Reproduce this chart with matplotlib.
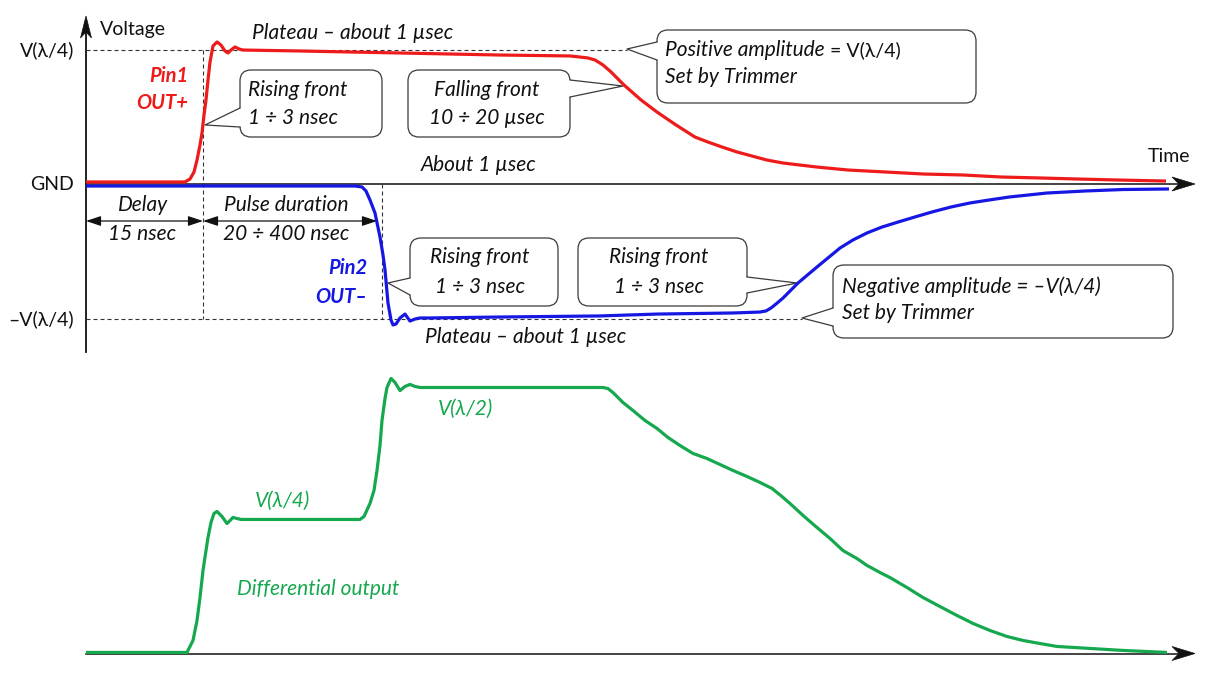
import matplotlib
matplotlib.use("Agg")
import matplotlib.pyplot as plt
from matplotlib.patches import FancyBboxPatch, Polygon

# ---------------- data (time in arbitrary units from the trigger, voltage in units of V(λ/4)) -------------
t_out_plus = [0, 99, 104, 108, 111, 114, 116, 118, 120, 122,
              124, 127, 131, 135, 139, 142, 145, 149, 153, 157,
              214, 314, 414, 484, 494, 502, 509, 517, 525, 538,
              555, 571, 590, 609, 622, 636, 651, 666, 681, 697,
              714, 731, 762, 800, 838, 877, 915, 953, 992, 1030, 1080]
v_out_plus = [0.015, 0.015, 0.037, 0.089, 0.178, 0.290, 0.379, 0.513, 0.625, 0.773,
              0.907, 1.026, 1.056, 1.033, 0.989, 0.974, 0.996, 1.019, 1.004, 0.996,
              0.989, 0.974, 0.959, 0.952, 0.944, 0.937, 0.922, 0.885, 0.833, 0.736,
              0.625, 0.535, 0.439, 0.349, 0.312, 0.275, 0.238, 0.208, 0.178, 0.156,
              0.141, 0.126, 0.104, 0.089, 0.074, 0.067, 0.052, 0.045, 0.037, 0.030, 0.022]

t_out_minus = [0, 269, 276, 280, 284, 289, 294, 297, 299, 302,
               305, 307, 310, 314, 319, 324, 329, 334, 344, 414,
               514, 571, 647, 674, 680, 685, 690, 697, 712, 731,
               754, 767, 781, 796, 812, 829, 846, 865, 884, 903,
               923, 961, 999, 1037, 1083]
v_out_minus = [-0.015, -0.015, -0.022, -0.052, -0.119, -0.216, -0.394, -0.528, -0.639, -0.885,
               -1.011, -1.048, -1.041, -0.996, -0.967, -1.019, -1.004, -0.996, -0.996, -0.989,
               -0.981, -0.967, -0.959, -0.952, -0.944, -0.922, -0.892, -0.848, -0.736, -0.617,
               -0.476, -0.416, -0.364, -0.320, -0.283, -0.245, -0.208, -0.171, -0.141, -0.119,
               -0.097, -0.067, -0.052, -0.041, -0.037]

t_diff = [0, 101, 107, 111, 114, 117, 120, 122, 125, 128,
          131, 136, 141, 144, 147, 151, 155, 214, 274, 278,
          284, 288, 291, 294, 296, 299, 301, 305, 309, 314,
          319, 324, 329, 334, 414, 517, 522, 527, 537, 547,
          559, 571, 582, 594, 607, 621, 634, 647, 661, 674,
          686, 696, 704, 717, 731, 744, 757, 771, 781, 794,
          804, 821, 837, 854, 871, 887, 904, 921, 937, 954,
          971, 1004, 1037, 1081]
v_diff = [0.008, 0.008, 0.098, 0.248, 0.421, 0.624, 0.774, 0.872, 0.985, 1.053,
          1.068, 1.030, 0.977, 1.000, 1.023, 1.015, 1.008, 1.008, 1.008, 1.030,
          1.128, 1.226, 1.376, 1.564, 1.752, 1.917, 2.000, 2.068, 2.038, 1.977,
          2.008, 2.023, 2.008, 2.000, 2.000, 2.000, 1.992, 1.962, 1.887, 1.827,
          1.752, 1.692, 1.624, 1.564, 1.504, 1.466, 1.421, 1.376, 1.331, 1.286,
          1.241, 1.180, 1.128, 1.038, 0.947, 0.865, 0.774, 0.714, 0.662, 0.609,
          0.571, 0.496, 0.421, 0.353, 0.286, 0.226, 0.173, 0.128, 0.098, 0.075,
          0.053, 0.038, 0.023, 0.008]

level_names = ["V(λ/4)", "GND", "–V(λ/4)"]
level_values = [1.0, 0.0, -1.0]
delay_end = 117      # end of 15 nsec delay
pulse_end = 296      # end of pulse duration
pos_amp_tip = 541    # where the positive amplitude callout points
neg_amp_tip = 716    # where the negative amplitude callout points

# ---------------- figure / coordinate systems ----------------
W, H, DPI = 1219, 680, 100
plt.rcParams["font.family"] = ["Lato", "Open Sans", "DejaVu Sans"]
RED, BLUE, GREEN = "#ee1b1b", "#1717e3", "#16a84f"
INK, EDGE = "#111111", "#3a3a3a"
FS_IT = 15      # italic annotations
FS_UP = 14      # upright labels
FS_BOLD = 14.5  # pin labels

fig = plt.figure(figsize=(W / DPI, H / DPI), dpi=DPI)
X0 = 86                       # px of time origin
TOP_GND, TOP_UNIT = 184, 134.5
BOT_GND, BOT_UNIT = 653.5, 133

ann = fig.add_axes([0, 0, 1, 1], zorder=0)
ann.set_xlim(0, W); ann.set_ylim(H, 0)
ax_top = fig.add_axes([0, 0, 1, 1], zorder=1)
ax_top.set_xlim(-X0, W - X0)
ax_top.set_ylim((TOP_GND - H) / TOP_UNIT, TOP_GND / TOP_UNIT)
ax_bot = fig.add_axes([0, 0, 1, 1], zorder=1)
ax_bot.set_xlim(-X0, W - X0)
ax_bot.set_ylim((BOT_GND - H) / BOT_UNIT, BOT_GND / BOT_UNIT)
for a in (ann, ax_top, ax_bot):
    a.set_facecolor("none")
    a.axis("off")

# ---------------- axes lines & arrowheads ----------------
ann.plot([86, 86], [352, 28], color=INK, lw=1.3)
ann.plot([86, 1182], [184, 184], color=INK, lw=1.1)
ann.plot([86, 1182], [653.5, 653.5], color=INK, lw=1.1)
for tip_x, tip_y in [(1195, 184), (1195, 653.5)]:
    ann.add_patch(Polygon([(tip_x, tip_y), (tip_x - 23, tip_y - 7), (tip_x - 16, tip_y),
                           (tip_x - 23, tip_y + 7)], closed=True, fc=INK, ec=INK, lw=0.5))
ann.add_patch(Polygon([(86, 16), (80.5, 38), (86, 32), (91.5, 38)], closed=True, fc=INK, ec=INK, lw=0.5))

# ---------------- dashed reference lines (data coords) ----------------
dash = dict(color="#333333", lw=0.8, linestyle=(0, (3.6, 2.7)))
ax_top.plot([0, pos_amp_tip], [level_values[0]] * 2, **dash)
ax_top.plot([0, neg_amp_tip], [level_values[2]] * 2, **dash)
ax_top.plot([delay_end] * 2, [level_values[0], level_values[2]], **dash)
ax_top.plot([pulse_end] * 2, [level_values[1], level_values[2]], **dash)

# ---------------- curves ----------------
kw = dict(lw=2.3, solid_joinstyle="round", solid_capstyle="butt", zorder=5)
ax_top.plot(t_out_plus, v_out_plus, color=RED, **kw)
ax_top.plot(t_out_minus, v_out_minus, color=BLUE, **kw)
ax_bot.plot(t_diff, v_diff, color=GREEN, **kw)


# ---------------- texts ----------------
def txt(x, y, s, ha="left", color=INK, style="italic", weight="normal", size=None):
    if size is None:
        size = FS_IT if style == "italic" else FS_UP
        if weight == "bold":
            size = FS_BOLD
    return ann.text(x, y, s, ha=ha, va="center", color=color, fontstyle=style,
                    fontweight=weight, fontsize=size, zorder=6)


txt(100, 30, "Voltage", style="normal")
for name, val in zip(level_names, level_values):
    txt(74, TOP_GND - val * TOP_UNIT + 1, name, ha="right", style="normal")
txt(1148, 156, "Time", style="normal")

txt(252, 33, "Plateau – about 1 µsec")
txt(188, 76, "Pin1", ha="right", color=RED, weight="bold")
txt(188, 103, "OUT+", ha="right", color=RED, weight="bold")
txt(421, 165, "About 1 µsec")
txt(143, 205, "Delay", ha="center")
txt(142, 234, "15 nsec", ha="center")
txt(286, 205, "Pulse duration", ha="center")
txt(286, 234, "20 ÷ 400 nsec", ha="center")
txt(367, 268, "Pin2", ha="right", color=BLUE, weight="bold")
txt(367, 297, "OUT–", ha="right", color=BLUE, weight="bold")
txt(425, 337, "Plateau – about 1 µsec")

txt(438, 409, "V(λ/2)", color=GREEN)
txt(255, 501, "V(λ/4)", color=GREEN)
txt(237, 589, "Differential output", color=GREEN)

# double arrows
for xa, xb in [(86, 203), (203, 377)]:
    ann.annotate("", xy=(xa, 221), xytext=(xb, 221),
                 arrowprops=dict(arrowstyle="<|-|>,head_length=0.9,head_width=0.3",
                                 lw=0.9, color=INK, shrinkA=0, shrinkB=0, mutation_scale=10))


# ---------------- callouts ----------------
def callout(x0, y0, x1, y1, side, b1, b2, tip):
    box = FancyBboxPatch((x0, y0), x1 - x0, y1 - y0, boxstyle="round,pad=0,rounding_size=11",
                         fc="white", ec=EDGE, lw=0.9, zorder=3)
    ann.add_patch(box)
    bx = x0 if side == "left" else x1
    d = 2 if side == "left" else -2
    ann.add_patch(Polygon([(bx + d, b1), (bx, b1), tip, (bx, b2), (bx + d, b2)], closed=True,
                          fc="white", ec="none", zorder=3.5))
    ann.plot([bx, tip[0], bx], [b1, tip[1], b2], color=EDGE, lw=0.9, zorder=3.6)


callout(240, 70, 382, 137, "left", 108, 127, (205, 125))
txt(248, 90, "Rising front")
txt(248, 118, "1 ÷ 3 nsec")

callout(408, 70, 570, 137, "right", 80, 97, (623, 86))
txt(487, 90, "Falling front", ha="center")
txt(487, 118, "10 ÷ 20 µsec", ha="center")

callout(657, 30, 976, 103, "left", 42, 60, (627, 49))
t1 = txt(665, 50, "Positive amplitude")
ann.annotate("= V(λ/4)", xy=(1, 0.5), xycoords=t1, xytext=(4, 0), textcoords="offset points",
             ha="left", va="center", fontsize=FS_UP, color=INK, zorder=6)
txt(665, 77, "Set by Trimmer")

callout(410, 238, 558, 306, "left", 278, 295, (388, 283))
txt(480, 257, "Rising front", ha="center")
txt(480, 287, "1 ÷ 3 nsec", ha="center")

callout(578, 238, 747, 306, "right", 277, 293, (797, 283))
txt(659, 257, "Rising front", ha="center")
txt(659, 287, "1 ÷ 3 nsec", ha="center")

callout(833, 265, 1173, 338, "left", 308, 326, (802, 318))
txt(842, 287, "Negative amplitude = –V(λ/4)")
txt(842, 313, "Set by Trimmer")

fig.savefig("out.png", dpi=DPI)
